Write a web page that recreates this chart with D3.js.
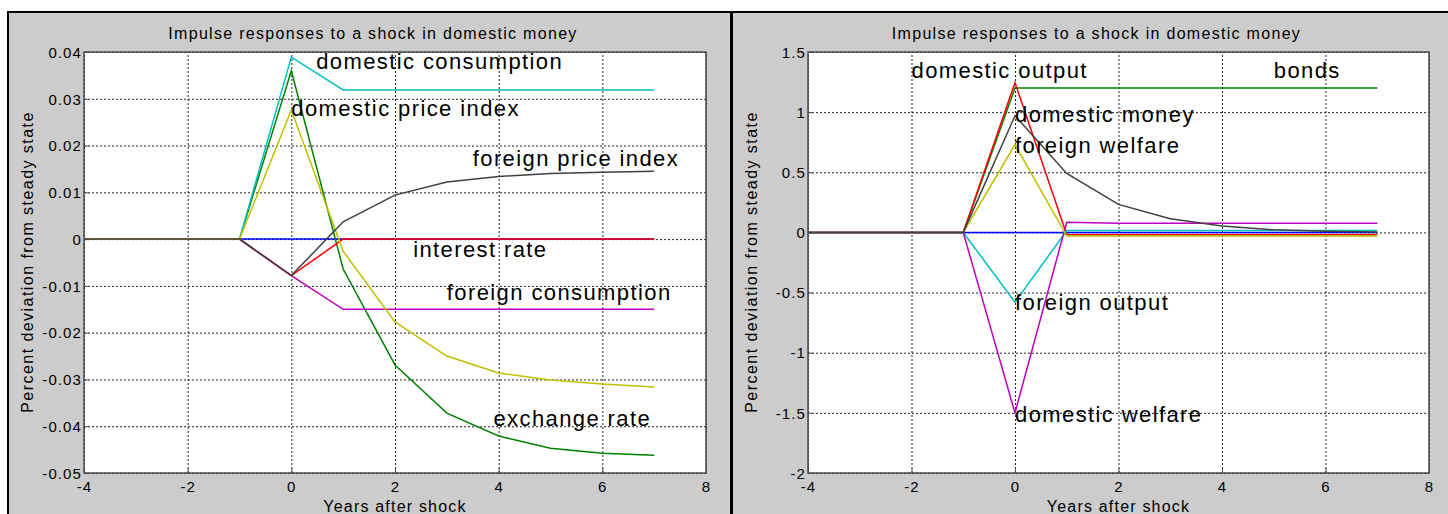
<!DOCTYPE html>
<html>
<head>
<meta charset="utf-8">
<script src="https://cdn.jsdelivr.net/npm/d3@7"></script>
<style>
  html, body { margin: 0; padding: 0; background: #ffffff; }
  svg { display: block; }
  text { font-family: "Liberation Sans", Arial, Helvetica, sans-serif; fill: #000; }
</style>
</head>
<body>
<svg id="fig" width="1448" height="514"></svg>
<script>
// ---- shared time axis (years relative to the shock) ----
const years = [-4, -3, -2, -1, 0, 1, 2, 3, 4, 5, 6, 7];
const xTickValues = [-4, -2, 0, 2, 4, 6, 8];
const xTickLabels = ["-4", "-2", "0", "2", "4", "6", "8"];

// ---- left panel: prices, consumption, rates ----
const foreignMoneyL      = [0, 0, 0, 0, 0, 0, 0, 0, 0, 0, 0, 0];
const exchangeRate       = [0, 0, 0, 0, 0.0360, -0.0064, -0.0269, -0.0372, -0.0421, -0.0447, -0.0458, -0.0462];
const interestRate       = [0, 0, 0, 0, -0.0078, 0, 0, 0, 0, 0, 0, 0];
const domesticConsumption= [0, 0, 0, 0, 0.0389, 0.0319, 0.0319, 0.0319, 0.0319, 0.0319, 0.0319, 0.0319];
const foreignConsumption = [0, 0, 0, 0, -0.0078, -0.0150, -0.0150, -0.0150, -0.0150, -0.0150, -0.0150, -0.0150];
const domesticPriceIndex = [0, 0, 0, 0, 0.0276, -0.0026, -0.0177, -0.0250, -0.0286, -0.0301, -0.0310, -0.0316];
const foreignPriceIndex  = [0, 0, 0, 0, -0.0078, 0.0037, 0.0094, 0.0122, 0.0134, 0.0140, 0.0143, 0.0145];
const leftYTicks  = [-0.05, -0.04, -0.03, -0.02, -0.01, 0, 0.01, 0.02, 0.03, 0.04];
const leftYLabels = ["-0.05", "-0.04", "-0.03", "-0.02", "-0.01", "0", "0.01", "0.02", "0.03", "0.04"];

// ---- right panel: output, welfare, money, bonds ----
const foreignMoneyR   = [0, 0, 0, 0, 0, 0, 0, 0, 0, 0, 0, 0];
const bonds           = [0, 0, 0, 0, 1.20, 1.20, 1.20, 1.20, 1.20, 1.20, 1.20, 1.20];
const domesticOutput  = [0, 0, 0, 0, 1.245, -0.02, -0.02, -0.02, -0.02, -0.02, -0.02, -0.02];
const foreignOutput   = [0, 0, 0, 0, -0.58, 0.015, 0.015, 0.015, 0.015, 0.015, 0.015, 0.015];
const domesticWelfare = [0, 0, 0, 0, -1.50, 0.085, 0.077, 0.076, 0.076, 0.076, 0.076, 0.076];
const foreignWelfare  = [0, 0, 0, 0, 0.73, -0.03, -0.03, -0.03, -0.03, -0.03, -0.03, -0.03];
const domesticMoney   = [0, 0, 0, 0, 0.97, 0.49, 0.233, 0.114, 0.053, 0.022, 0.009, 0.004];
const rightYTicks  = [-2, -1.5, -1, -0.5, 0, 0.5, 1, 1.5];
const rightYLabels = ["-2", "-1.5", "-1", "-0.5", "0", "0.5", "1", "1.5"];

// MATLAB-style default colour order
const lineColors = ["#0000ff", "#008000", "#ff0000", "#00bfbf", "#bf00bf", "#bfbf00", "#404040"];

// text annotations, anchored in data coordinates (left edge, vertical middle)
const leftNotes = [
  { text: "domestic consumption", x: 0.48, y: 0.0380 },
  { text: "domestic price index", x: 0.0,  y: 0.0280 },
  { text: "foreign price index",  x: 3.5,  y: 0.0174 },
  { text: "interest rate",        x: 2.35, y: -0.0021 },
  { text: "foreign consumption",  x: 3.0,  y: -0.0113 },
  { text: "exchange rate",        x: 3.9,  y: -0.0383 }
];
const rightNotes = [
  { text: "domestic output",  x: -2.0, y: 1.35 },
  { text: "bonds",            x: 5.0,  y: 1.35 },
  { text: "domestic money",   x: 0.0,  y: 0.98 },
  { text: "foreign welfare",  x: 0.0,  y: 0.73 },
  { text: "foreign output",   x: 0.0,  y: -0.58 },
  { text: "domestic welfare", x: 0.0,  y: -1.51 }
];

const titleText = "Impulse responses to a shock in domestic money";
const xLabelText = "Years after shock";
const yLabelText = "Percent deviation from steady state";

const svg = d3.select("#fig");

// figure background and window frame
svg.append("rect").attr("x", 8).attr("y", 12).attr("width", 1440).attr("height", 502).attr("fill", "#cccccc");
svg.append("line").attr("x1", 7).attr("x2", 1448).attr("y1", 12).attr("y2", 12).attr("stroke", "#000").attr("stroke-width", 2);
svg.append("line").attr("x1", 8).attr("x2", 8).attr("y1", 11).attr("y2", 514).attr("stroke", "#000").attr("stroke-width", 2);
svg.append("line").attr("x1", 731.5).attr("x2", 731.5).attr("y1", 11).attr("y2", 514).attr("stroke", "#000").attr("stroke-width", 3);

function drawPanel(p) {
  const x = d3.scaleLinear().domain([-4, 8]).range([p.left, p.right]);
  const y = d3.scaleLinear().domain(p.yDomain).range([473, 52]);
  const g = svg.append("g");

  // plot area
  g.append("rect").attr("x", p.left).attr("y", 52).attr("width", p.right - p.left).attr("height", 421).attr("fill", "#ffffff");

  // dotted grid
  const gx = g.append("g").attr("transform", `translate(0,473)`)
    .call(d3.axisBottom(x).tickValues(xTickValues).tickSize(-421).tickFormat(""));
  const gy = g.append("g").attr("transform", `translate(${p.left},0)`)
    .call(d3.axisLeft(y).tickValues(p.yTicks).tickSize(-(p.right - p.left)).tickFormat(""));
  [gx, gy].forEach(a => {
    a.select(".domain").remove();
    a.selectAll(".tick line").attr("stroke", "#222").attr("stroke-width", 1).attr("stroke-dasharray", "2,2");
  });

  // series
  const line = d3.line().x((d, i) => x(years[i])).y(d => y(d));
  p.series.forEach((s, i) => {
    g.append("path").datum(s).attr("d", line).attr("fill", "none")
      .attr("stroke", lineColors[i]).attr("stroke-width", 1.5).attr("stroke-linejoin", "miter");
  });

  // axes frame and tick marks
  g.append("rect").attr("x", p.left).attr("y", 52).attr("width", p.right - p.left).attr("height", 421)
    .attr("fill", "none").attr("stroke", "#4a4a4a").attr("stroke-width", 1.5);
  const tb = g.append("g").attr("transform", `translate(0,473)`)
    .call(d3.axisBottom(x).tickValues(xTickValues).tickSize(-5).tickPadding(10).tickFormat((d, i) => xTickLabels[i]));
  const tl = g.append("g").attr("transform", `translate(${p.left},0)`)
    .call(d3.axisLeft(y).tickValues(p.yTicks).tickSize(-5).tickPadding(7).tickFormat((d, i) => p.yLabels[i]));
  [tb, tl].forEach(a => {
    a.select(".domain").remove();
    a.selectAll(".tick line").attr("stroke", "#4a4a4a");
    a.selectAll(".tick text").attr("font-size", 15).attr("letter-spacing", "1.1px")
      .attr("font-family", "'Liberation Sans', Arial, sans-serif").attr("fill", "#000");
  });
  tb.selectAll(".tick text").attr("dy", "0.71em").attr("y", 8);
  tl.selectAll(".tick text").attr("x", -2).attr("dy", "0.35em");

  // annotations
  p.notes.forEach(n => {
    g.append("text").attr("x", x(n.x)).attr("y", y(n.y)).attr("dy", "0.36em")
      .attr("font-size", 22).attr("letter-spacing", "1.4px").text(n.text);
  });

  // title and axis labels
  const cx = (p.left + p.right) / 2;
  g.append("text").attr("x", cx - 22).attr("y", 39).attr("text-anchor", "middle")
    .attr("font-size", 16).attr("letter-spacing", "1.3px").text(titleText);
  g.append("text").attr("x", cx).attr("y", 512).attr("text-anchor", "middle")
    .attr("font-size", 16).attr("letter-spacing", "1.2px").text(xLabelText);
  g.append("text").attr("transform", `translate(${p.left - 51},262) rotate(-90)`).attr("text-anchor", "middle")
    .attr("font-size", 16).attr("letter-spacing", "1.45px").text(yLabelText);
}

drawPanel({
  left: 84, right: 706, yDomain: [-0.05, 0.04], yTicks: leftYTicks, yLabels: leftYLabels,
  series: [foreignMoneyL, exchangeRate, interestRate, domesticConsumption, foreignConsumption, domesticPriceIndex, foreignPriceIndex],
  notes: leftNotes
});
drawPanel({
  left: 808, right: 1429, yDomain: [-2, 1.5], yTicks: rightYTicks, yLabels: rightYLabels,
  series: [foreignMoneyR, bonds, domesticOutput, foreignOutput, domesticWelfare, foreignWelfare, domesticMoney],
  notes: rightNotes
});
</script>
</body>
</html>
